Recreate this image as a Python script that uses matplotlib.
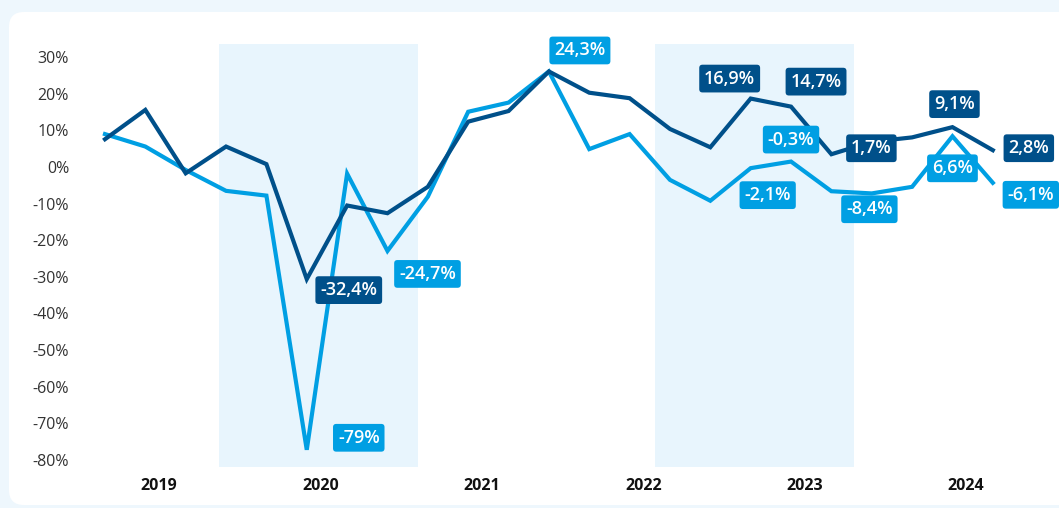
import matplotlib.pyplot as plt
from matplotlib.patches import FancyBboxPatch
from matplotlib.transforms import IdentityTransform, ScaledTranslation

plt.rcParams['font.family'] = ['Open Sans', 'DejaVu Sans']

# quarterly year-on-year change, %
dark = [5.8, 13.8, -3.5, 3.8, -1.0, -32.4, -12.3, -14.4, -7.2, 10.6, 13.5, 24.3,
        18.5, 17.0, 8.6, 3.6, 16.9, 14.7, 1.7, 5.1, 6.3, 9.1, 2.8]
light = [7.2, 3.8, -2.6, -8.3, -9.6, -79.0, -3.6, -24.7, -9.9, 13.3, 15.8, 24.3,
         3.1, 7.2, -5.3, -11.0, -2.1, -0.3, -8.4, -9.0, -7.2, 6.6, -6.1]
years = ['2019', '2020', '2021', '2022', '2023', '2024']
yticks = [30, 20, 10, 0, -10, -20, -30, -40, -50, -60, -70, -80]

# shaded periods (in quarter index units)
bands = [(2.82, 7.76), (13.63, 18.56)]

# annotated points: series, index, text
labels = [('dark', 5, '-32,4%'), ('light', 5, '-79%'), ('light', 7, '-24,7%'),
          ('light', 11, '24,3%'), ('dark', 16, '16,9%'), ('dark', 17, '14,7%'),
          ('light', 17, '-0,3%'), ('light', 16, '-2,1%'), ('dark', 18, '1,7%'),
          ('light', 18, '-8,4%'), ('dark', 21, '9,1%'), ('light', 21, '6,6%'),
          ('dark', 22, '2,8%'), ('light', 22, '-6,1%')]
# label offsets in pixels
offsets = [(42, -11), (52, 12), (40, -23), (31, 21), (-21, 20), (25, 25),
           (0, 22), (17, -27), (40, 6), (38, -18), (2, 23), (0, -32),
           (36, 2), (38, -12)]

c_dark = '#00508a'
c_light = '#009fe3'

fig = plt.figure(figsize=(10.59, 5.08), dpi=100, facecolor='#eef7fd')
card = FancyBboxPatch((9, 3), 1100, 493, boxstyle='round,pad=0,rounding_size=15',
                      transform=IdentityTransform(), facecolor='white',
                      edgecolor='none', zorder=-10)
fig.patches.append(card)

ax = fig.add_axes([75 / 1059, 41 / 508, 984 / 1059, 423 / 508])
ax.set_zorder(1)
ax.set_facecolor('none')
ax.set_xlim(-0.743, 23.64)
ax.set_ylim(-83.7, 31.8)
for s in ax.spines.values():
    s.set_visible(False)

for a, b in bands:
    ax.axvspan(a, b, color='#e8f5fd', lw=0, zorder=0)

x = list(range(len(dark)))
ax.plot(x, light, color=c_light, lw=3, solid_joinstyle='miter', zorder=2)
ax.plot(x, dark, color=c_dark, lw=3, solid_joinstyle='miter', zorder=3)

series = {'dark': (dark, c_dark), 'light': (light, c_light)}
for (name, i, txt), (dx, dy) in zip(labels, offsets):
    vals, col = series[name]
    ax.annotate(txt, (i, vals[i]), xytext=(dx, dy), textcoords='offset pixels',
                ha='center', va='center', color='white', fontsize=13,
                fontweight='semibold', zorder=5, annotation_clip=False,
                bbox=dict(boxstyle='round,pad=0.27,rounding_size=0.18',
                          facecolor=col, edgecolor='none'))

# y labels (sit a little below their values, as in the original)
ax.set_yticks([])
shift = ax.get_yaxis_transform() + ScaledTranslation(-0.06, -0.085, fig.dpi_scale_trans)
for v in yticks:
    ax.text(0, v, f'{v}%', transform=shift, ha='right', va='center',
            fontsize=11.5, color='#333333')

ax.set_xticks([1.34 + 4 * k for k in range(len(years))])
ax.set_xticklabels(years, fontsize=11.5, fontweight='bold', color='#111111')
ax.tick_params(axis='x', length=0, pad=8)

fig.savefig('out.png', dpi=100, facecolor=fig.get_facecolor())
